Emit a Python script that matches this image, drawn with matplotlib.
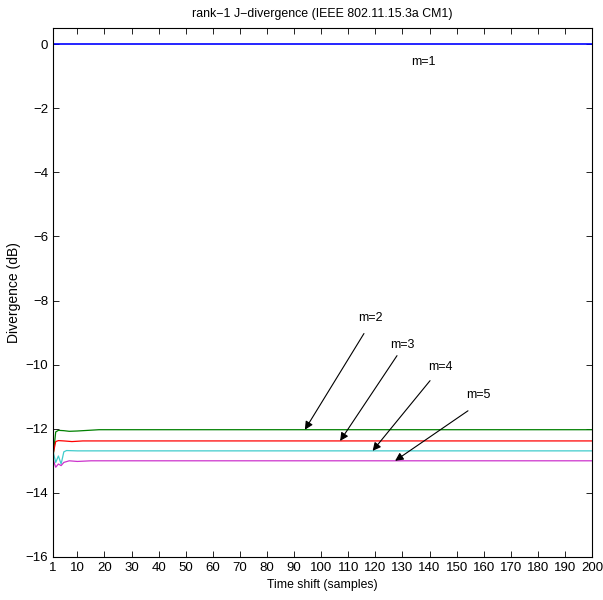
import numpy as np
import matplotlib.pyplot as plt
plt.rcParams["font.family"] = "Liberation Sans"
plt.rcParams["font.size"] = 9.5

# sample points (sample index, divergence in dB)
m1_x = [1, 200]
m1_y = [0.0, 0.0]

m2_x = [1, 2, 3, 5, 7, 10, 14, 18, 200]
m2_y = [-12.9, -12.1, -12.05, -12.06, -12.08, -12.07, -12.05, -12.03, -12.03]

m3_x = [1, 2, 3, 5, 8, 12, 200]
m3_y = [-12.8, -12.4, -12.37, -12.38, -12.4, -12.38, -12.38]

m4_x = [1, 2, 3, 4, 5, 6, 10, 200]
m4_y = [-12.7, -13.05, -12.85, -13.1, -12.72, -12.68, -12.69, -12.69]

m5_x = [1, 2, 3, 4, 5, 7, 10, 15, 200]
m5_y = [-12.95, -13.2, -13.1, -13.15, -13.05, -13.0, -13.02, -13.0, -13.0]

labels = ["m=1", "m=2", "m=3", "m=4", "m=5"]
label_pos = [(137.6, -0.56), (118, -8.53), (130, -9.4), (144, -10.06), (158, -10.94)]
arrow_tail = [(115.8, -9.03), (128, -9.72), (140.2, -10.5), (154.2, -11.44)]
arrow_head = [(94, -12.03), (107, -12.38), (119, -12.69), (127.3, -13.0)]

xticks = [1] + list(range(10, 201, 10))
yticks = list(range(-16, 1, 2))

fig = plt.figure(figsize=(6.03, 6.0), dpi=100)
ax = fig.add_axes([0.0879, 0.0717, 0.8939, 0.8816])

ax.plot(m1_x, m1_y, color=(0, 0, 1), lw=1.2)
ax.plot(m2_x, m2_y, color=(0, 0.5, 0), lw=0.9)
ax.plot(m3_x, m3_y, color=(1, 0, 0), lw=0.9)
ax.plot(m4_x, m4_y, color=(0.25, 0.8, 0.8), lw=0.9)
ax.plot(m5_x, m5_y, color=(0.8, 0.2, 0.8), lw=0.9)

for i, lab in enumerate(labels):
    ax.text(label_pos[i][0], label_pos[i][1], lab, ha="center", va="center", fontsize=9)
for tail, head in zip(arrow_tail, arrow_head):
    ax.annotate("", xy=head, xytext=tail,
                arrowprops=dict(arrowstyle="-|>", color="k", lw=0.8,
                                mutation_scale=12, shrinkA=0, shrinkB=0))

ax.set_xlim(1, 200)
ax.set_ylim(-16, 0.5)
ax.set_xticks(xticks)
ax.set_yticks(yticks)
ax.tick_params(direction="in", top=True, right=True, length=4, width=0.6, pad=3.5)
for s in ax.spines.values():
    s.set_linewidth(0.8)

ax.set_xlabel("Time shift (samples)", fontsize=8.8, labelpad=4)
ax.set_ylabel("Divergence (dB)", fontsize=10, labelpad=3)
ax.set_title("rank\u22121 J\u2212divergence (IEEE 802.11.15.3a CM1)", fontsize=8.9, pad=8)

plt.savefig("out.png", dpi=100)
